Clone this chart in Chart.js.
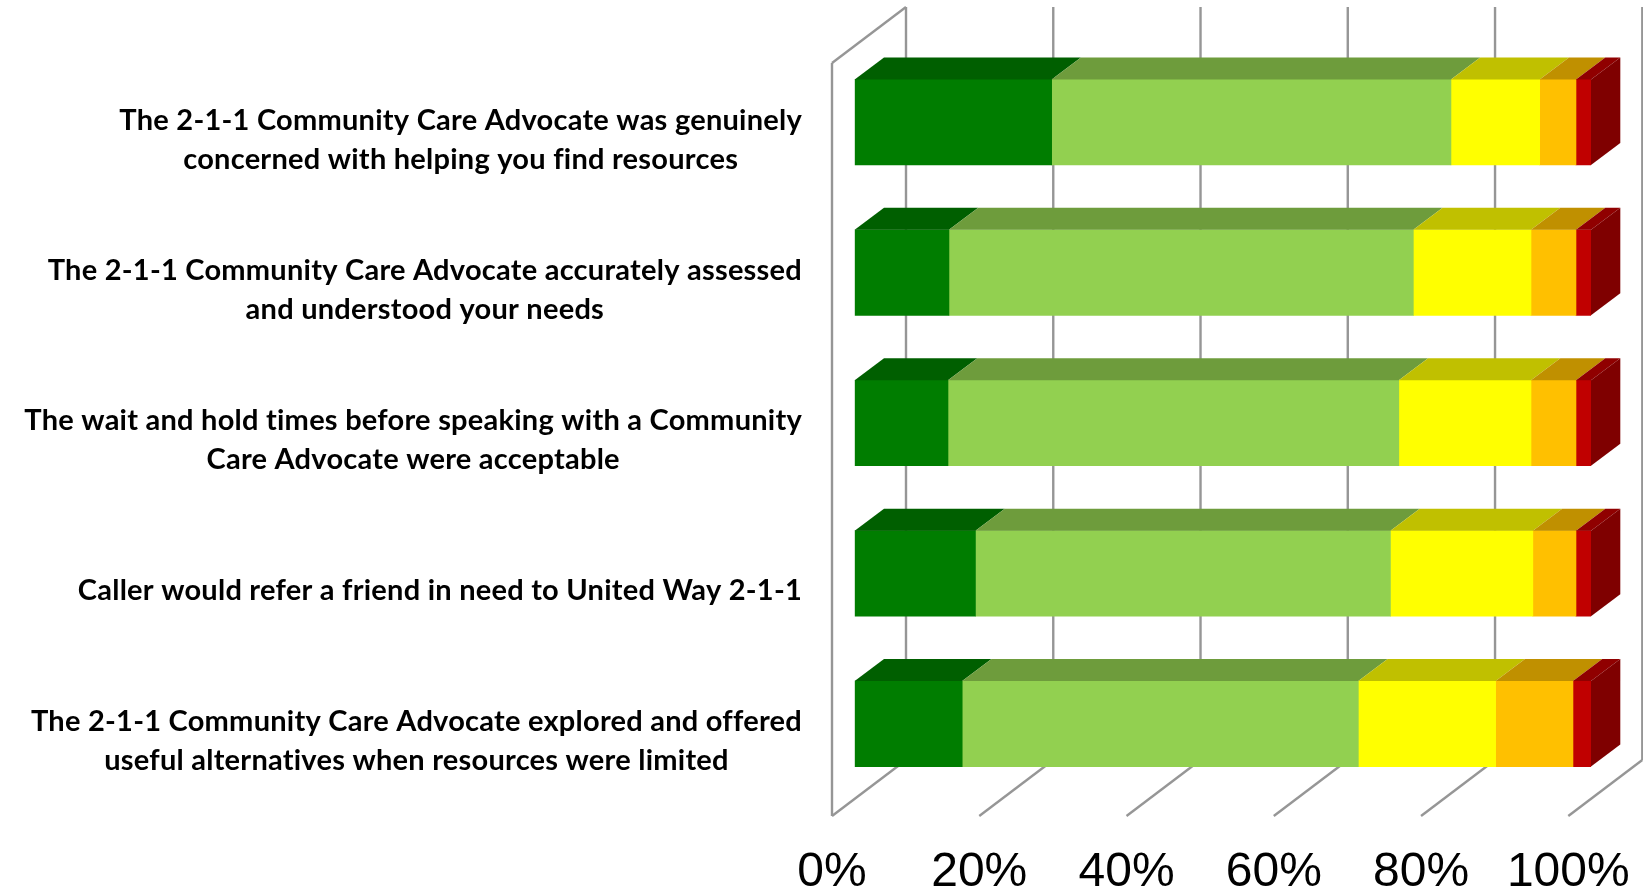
<!DOCTYPE html>
<html>
<head>
<meta charset="utf-8">
<title>2-1-1 caller survey</title>
<script src="https://cdn.jsdelivr.net/npm/chart.js@4"></script>
<style>
  html, body { margin: 0; padding: 0; background: #fff; }
  canvas { display: block; }
</style>
</head>
<body>
<canvas id="grafico" width="1643" height="893"></canvas>
<script>
// categories, one entry per line of the label
const categorias = [
    ['The 2-1-1 Community Care Advocate was genuinely', 'concerned with helping you find resources'],
    ['The 2-1-1 Community Care Advocate accurately assessed', 'and understood your needs'],
    ['The wait and hold times before speaking with a Community', 'Care Advocate were acceptable'],
    ['Caller would refer a friend in need to United Way 2-1-1'],
    ['The 2-1-1 Community Care Advocate explored and offered', 'useful alternatives when resources were limited']
];

// percentages
const verdeEscuro = [26.75, 12.8, 12.67, 16.4, 14.6];
const verdeClaro = [54.23, 63.07, 61.23, 56.36, 53.8];
const amarelo = [12.05, 15.98, 17.95, 19.34, 18.65];
const laranja = [4.93, 6.11, 6.11, 5.86, 10.5];
const vermelho = [2.04, 2.04, 2.04, 2.04, 2.45];

const marcasX = [0, 20, 40, 60, 80, 100];

// front colour, colour of the top face
const cores = [
    ['#007D00', '#005F00'],
    ['#92D050', '#6E9C3C'],
    ['#FFFF00', '#C0C000'],
    ['#FFC000', '#C09000'],
    ['#C00000', '#900000']
];
const corLateral = '#7F0000';
const corGrade = '#969696';

// fake 3D offsets, in pixels
const fundoX = 29.3, fundoY = -22;     // depth of a bar
const chaoX = -22.7, chaoY = 17;       // floor front edge, from the plot area corner
const paredeX = 74, paredeY = -56;     // floor front edge to back wall
const topoParede = 7;

function linha(ctx, x1, y1, x2, y2) {
    ctx.beginPath();
    ctx.moveTo(x1, y1);
    ctx.lineTo(x2, y2);
    ctx.stroke();
}

function poligono(ctx, pontos, cor) {
    ctx.fillStyle = cor;
    ctx.beginPath();
    pontos.forEach(function(p, i) {
        if (i === 0) ctx.moveTo(p[0], p[1]);
        else ctx.lineTo(p[0], p[1]);
    });
    ctx.closePath();
    ctx.fill();
}

const grade3d = {
    id: 'grade3d',
    beforeDatasetsDraw(chart) {
        const ctx = chart.ctx;
        const x = chart.scales.x;
        const chao = chart.chartArea.bottom + chaoY;
        ctx.save();
        ctx.strokeStyle = corGrade;
        ctx.lineWidth = 2.4;
        marcasX.forEach(function(v) {
            const px = x.getPixelForValue(v) + chaoX;
            linha(ctx, px, chao, px + paredeX, chao + paredeY);
            linha(ctx, px + paredeX, chao + paredeY, px + paredeX, topoParede);
        });
        // side wall
        const px0 = x.getPixelForValue(0) + chaoX;
        linha(ctx, px0, chao, px0, topoParede - paredeY);
        linha(ctx, px0, topoParede - paredeY, px0 + paredeX, topoParede);
        ctx.restore();
    }
};

const barras3d = {
    id: 'barras3d',
    afterDatasetsDraw(chart) {
        const ctx = chart.ctx;
        chart.data.datasets.forEach(function(ds, d) {
            chart.getDatasetMeta(d).data.forEach(function(bar) {
                const topo = bar.y - bar.height / 2;
                poligono(ctx, [
                    [bar.base, topo],
                    [bar.x, topo],
                    [bar.x + fundoX, topo + fundoY],
                    [bar.base + fundoX, topo + fundoY]
                ], cores[d][1]);
                if (d === chart.data.datasets.length - 1) {
                    poligono(ctx, [
                        [bar.x, topo],
                        [bar.x + fundoX, topo + fundoY],
                        [bar.x + fundoX, topo + fundoY + bar.height],
                        [bar.x, topo + bar.height]
                    ], corLateral);
                }
            });
        });
    }
};

// the axis can only align all lines one way, these are centred in a right aligned block
const rotulos = {
    id: 'rotulos',
    afterDraw(chart) {
        const ctx = chart.ctx;
        const y = chart.scales.y;
        const direita = 802, altLinha = 39, desceY = 17.5;
        ctx.save();
        ctx.font = 'bold 29px Lato';
        ctx.letterSpacing = '0.24px';
        ctx.fillStyle = '#000';
        ctx.textAlign = 'center';
        ctx.textBaseline = 'middle';
        categorias.forEach(function(linhas, i) {
            const largura = Math.max.apply(null, linhas.map(function(t) { return ctx.measureText(t).width; }));
            const cx = direita - largura / 2;
            const y0 = y.getPixelForValue(i) + desceY - (linhas.length - 1) * altLinha / 2;
            linhas.forEach(function(t, j) {
                ctx.fillText(t, cx, y0 + j * altLinha);
            });
        });
        ctx.restore();
    }
};

new Chart(document.getElementById('grafico').getContext('2d'), {
    type: 'bar',
    data: {
        labels: categorias.map(function(c) { return c.join(' '); }),
        datasets: [verdeEscuro, verdeClaro, amarelo, laranja, vermelho].map(function(valores, i) {
            return { data: valores, backgroundColor: cores[i][0], borderWidth: 0, barThickness: 85.5 };
        })
    },
    options: {
        indexAxis: 'y',
        responsive: false,
        animation: false,
        layout: { padding: { left: 854.7, right: 52, top: 47, bottom: 0 } },
        scales: {
            x: {
                stacked: true,
                min: 0,
                max: 100,
                grid: { display: false },
                border: { display: false },
                ticks: {
                    stepSize: 20,
                    autoSkip: false,
                    maxRotation: 0,
                    padding: 37,
                    labelOffset: chaoX,
                    color: '#000',
                    font: { family: 'Liberation Sans', size: 48 },
                    callback: function(v) { return v + '%'; }
                },
                afterFit: function(escala) {
                    escala.height = 94;
                    escala.paddingLeft = 0;
                    escala.paddingRight = 0;
                }
            },
            y: {
                stacked: true,
                grid: { display: false },
                border: { display: false },
                ticks: { display: false },
                afterFit: function(escala) { escala.width = 0; }
            }
        },
        plugins: {
            legend: { display: false },
            tooltip: { enabled: false }
        }
    },
    plugins: [grade3d, barras3d, rotulos]
});
</script>
</body>
</html>
